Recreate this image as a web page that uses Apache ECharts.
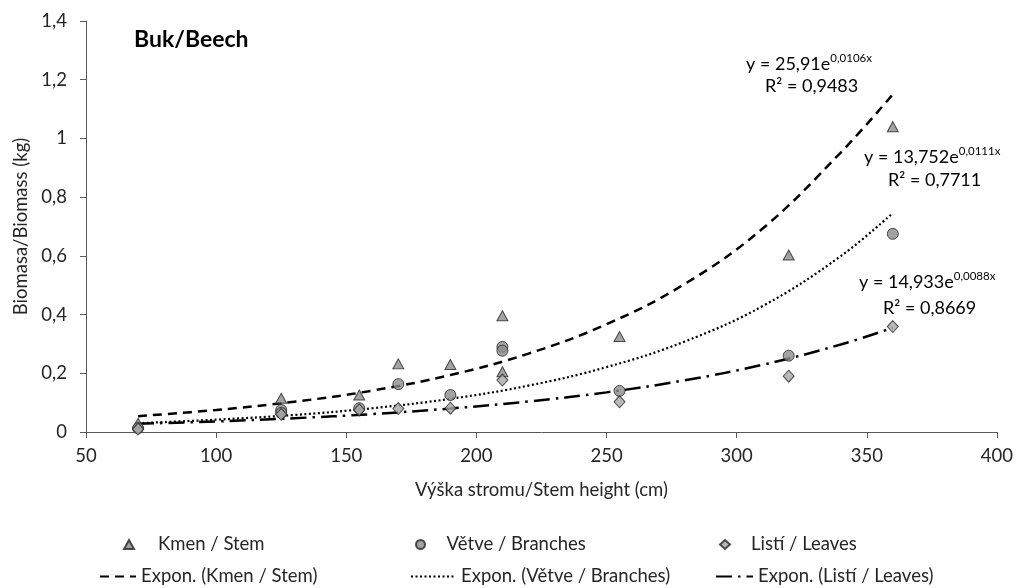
<!DOCTYPE html>
<html><head><meta charset="utf-8">
<script src="https://cdn.jsdelivr.net/npm/echarts@6/dist/echarts.min.js"></script>
<style>html,body{margin:0;padding:0;background:#fff}#c{width:1016px;height:588px}</style>
</head><body><div id="c"></div>
<script>
// Measured points (x = stem height cm, y = biomass kg)
const stemX   = [70, 125, 155, 170, 190, 210, 210, 255, 320, 360];
const stemY   = [0.03, 0.115, 0.126, 0.232, 0.23, 0.396, 0.205, 0.325, 0.603, 1.04];
const branchX = [70, 125, 125, 155, 170, 190, 210, 210, 255, 320, 360];
const branchY = [0.013, 0.075, 0.065, 0.081, 0.163, 0.126, 0.29, 0.277, 0.14, 0.26, 0.675];
const leafX   = [70, 125, 155, 170, 190, 210, 255, 320, 360];
const leafY   = [0.01, 0.06, 0.075, 0.08, 0.081, 0.177, 0.103, 0.19, 0.359];
// Trend curves
const trendX       = [70, 100, 130, 160, 190, 220, 250, 280, 310, 340, 360];
const trendStemY   = [0.054, 0.075, 0.103, 0.141, 0.194, 0.267, 0.367, 0.504, 0.693, 0.952, 1.15];
const trendBranchY = [0.030, 0.042, 0.058, 0.081, 0.113, 0.158, 0.221, 0.308, 0.429, 0.599, 0.746];
const trendLeafY   = [0.028, 0.036, 0.047, 0.061, 0.080, 0.104, 0.135, 0.176, 0.229, 0.298, 0.355];
const xTicks = {min: 50, max: 400, step: 50};
const yTicks = {min: 0, max: 1.4, step: 0.2};
const names = ['Kmen / Stem', 'Větve / Branches', 'Listí / Leaves',
  'Expon. (Kmen / Stem)', 'Expon. (Větve / Branches)', 'Expon. (Listí / Leaves)'];

const zip = (a, b) => a.map((v, i) => [v, b[i]]);
const FONT = 'Lato';
const FS = 18.5;
const ax = '#595959';
const txt = '#262626';
const chart = echarts.init(document.getElementById('c'), null, {renderer: 'canvas'});
const mk = {color: '#8c8c8c', borderColor: '#262626', borderWidth: 1};
const scatLegend = (name, left, top, pad) => ({
  data: [name], left: left, top: top, itemWidth: 10, itemHeight: 9, itemGap: 4,
  textStyle: {fontFamily: FONT, fontSize: FS, color: txt, padding: [0, 0, 0, pad]}, selectedMode: false
});
const lineLegend = (name, left, top, w) => ({
  data: [name], left: left, top: top, itemWidth: w, itemHeight: 12, itemGap: 4,
  itemStyle: {opacity: 0, color: 'rgba(0,0,0,0)', borderWidth: 0},
  textStyle: {fontFamily: FONT, fontSize: FS, color: txt}, selectedMode: false
});
const eq = (a, b) => ({
  text: '{n|y = ' + a + 'e}{s|' + b + '}',
  rich: {n: {fontFamily: FONT, fontSize: 18, fill: '#000', verticalAlign: 'bottom'},
         s: {fontFamily: FONT, fontSize: 11.5, fill: '#000', verticalAlign: 'top', padding: [0, 0, 9, 0]}}
});
chart.setOption({
  animation: false,
  grid: {left: 86, right: 18, top: 21, bottom: 156},
  xAxis: {
    type: 'value', min: xTicks.min, max: xTicks.max, interval: xTicks.step,
    name: 'Výška stromu/Stem height (cm)', nameLocation: 'middle', nameGap: 49,
    nameTextStyle: {fontFamily: FONT, fontSize: FS, color: txt},
    axisLine: {show: true, lineStyle: {color: ax, width: 1}},
    axisTick: {show: true, length: 6, lineStyle: {color: ax}},
    axisLabel: {fontFamily: FONT, fontSize: FS, color: txt, margin: 15},
    splitLine: {show: false}
  },
  yAxis: {
    type: 'value', min: yTicks.min, max: yTicks.max, interval: yTicks.step,
    name: 'Biomasa/Biomass (kg)', nameLocation: 'middle', nameGap: 54,
    nameTextStyle: {fontFamily: FONT, fontSize: FS, color: txt},
    axisLine: {show: true, lineStyle: {color: ax, width: 1}},
    axisTick: {show: true, length: 6, lineStyle: {color: ax}},
    axisLabel: {fontFamily: FONT, fontSize: FS, color: txt, margin: 19,
      formatter: v => String(Math.round(v * 10) / 10).replace('.', ',')},
    splitLine: {show: false}
  },
  legend: [
    scatLegend(names[0], 118, 530, 19),
    scatLegend(names[1], 410, 530, 16),
    scatLegend(names[2], 714, 530, 16),
    lineLegend(names[3], 94, 562, 36),
    lineLegend(names[4], 405, 562, 45),
    lineLegend(names[5], 710, 562, 37)
  ],
  series: [
    {name: names[0], type: 'scatter', data: zip(stemX, stemY), symbol: 'triangle', symbolSize: [11, 10], itemStyle: mk, z: 5},
    {name: names[1], type: 'scatter', data: zip(branchX, branchY), symbol: 'circle', symbolSize: 11, itemStyle: mk, z: 5},
    {name: names[2], type: 'scatter', data: zip(leafX, leafY), symbol: 'diamond', symbolSize: [11, 12], itemStyle: {color: '#a6a6a6', borderColor: '#262626', borderWidth: 1}, z: 5},
    {name: names[3], type: 'line', data: zip(trendX, trendStemY), smooth: 0.4, symbol: 'none', itemStyle: {color: '#000'},
      lineStyle: {color: '#000', width: 2.5, type: [9, 6]}, z: 3},
    {name: names[4], type: 'line', data: zip(trendX, trendBranchY), smooth: 0.4, symbol: 'none', itemStyle: {color: '#000'},
      lineStyle: {color: '#000', width: 2.2, type: [2, 2.5]}, z: 3},
    {name: names[5], type: 'line', data: zip(trendX, trendLeafY), smooth: 0.4, symbol: 'none', itemStyle: {color: '#000'},
      lineStyle: {color: '#000', width: 2.5, type: [16, 6, 2.5, 6]}, z: 3}
  ],
  graphic: [
    {type: 'text', left: 134, top: 28, style: {text: 'Buk/Beech', fontFamily: FONT, fontWeight: 'bold', fontSize: 23, fill: '#000'}},
    {type: 'text', left: 746, top: 52, style: eq('25,91', '0,0106x')},
    {type: 'text', left: 765, top: 77, style: {text: 'R² = 0,9483', fontFamily: FONT, fontSize: 18, fill: '#000'}},
    {type: 'text', left: 864, top: 145, style: eq('13,752', '0,0111x')},
    {type: 'text', left: 888, top: 171, style: {text: 'R² = 0,7711', fontFamily: FONT, fontSize: 18, fill: '#000'}},
    {type: 'text', left: 859, top: 270, style: eq('14,933', '0,0088x')},
    {type: 'text', left: 883, top: 299, style: {text: 'R² = 0,8669', fontFamily: FONT, fontSize: 18, fill: '#000'}}
  ]
});
</script></body></html>
